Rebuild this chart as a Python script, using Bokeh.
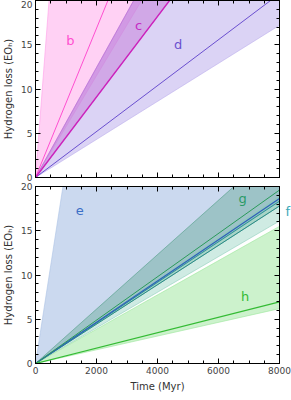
from bokeh.plotting import figure
from bokeh.models import Range1d, LinearAxis, SingleIntervalTicker, FixedTicker, Label
from bokeh.layouts import column
from bokeh.embed import file_html
from bokeh.resources import INLINE

# ---- data (values at t = 0 and t = 8000 Myr; all curves are linear from origin)
t = [0, 8000]

# top panel
b_lo = [0, 46.0];  b_mid = [0, 67.4];  b_hi = [0, 360.0]
c_lo = [0, 36.4];  c_mid = [0, 36.4];  c_hi = [0, 49.7]
d_lo = [0, 17.2];  d_mid = [0, 20.76]; d_hi = [0, 49.7]

# bottom panel
e_lo = [0, 18.3];  e_mid = [0, 18.65]; e_hi = [0, 177.8]
g_lo = [0, 17.8];  g_mid = [0, 19.6];  g_hi = [0, 24.6]
f_lo = [0, 16.1];  f_mid = [0, 18.35]; f_hi = [0, 18.9]
h_lo = [0, 6.2];   h_mid = [0, 6.97];  h_hi = [0, 15.5]

top_labels = [("b", 1140, 15.5, "#ff4fd0"), ("c", 3380, 17.2, "#c42cc4"), ("d", 4680, 15.0, "#6a4fcf")]
bot_labels = [("e", 1450, 17.3, "#3b6fc6"), ("g", 6790, 18.7, "#2a9a66"), ("h", 6870, 7.6, "#33bb33")]
f_label = ("f", 17.2, "#3aa8b8")

y_ticks_interval = 5
x_ticks_interval = 2000
FONT = "DejaVu Sans"


def mirror_axis(ticker):
    return LinearAxis(ticker=ticker, major_label_text_font_size="0px", major_tick_in=5,
                      major_tick_out=0, minor_tick_in=3, minor_tick_out=0,
                      major_label_standoff=0, axis_label=None)


def style(p, show_x_labels):
    p.outline_line_color = "black"
    p.outline_line_width = 1
    p.grid.visible = False
    p.background_fill_color = "white"
    p.border_fill_color = "white"
    for ax in p.xaxis + p.yaxis:
        ax.major_tick_in = 5
        ax.major_tick_out = 0
        ax.minor_tick_in = 3
        ax.minor_tick_out = 0
        ax.axis_line_color = "black"
        ax.major_label_text_font = FONT
        ax.major_label_text_font_size = "9px"
        ax.major_label_text_color = "#444444"
        ax.major_label_standoff = 3
        ax.axis_label_text_font = FONT
        ax.axis_label_text_font_style = "normal"
        ax.axis_label_text_font_size = "10px"
        ax.axis_label_text_color = "#333333"
        ax.axis_label_standoff = 4
    p.yaxis[0].ticker = SingleIntervalTicker(interval=y_ticks_interval, num_minor_ticks=5)
    p.xaxis[0].ticker = SingleIntervalTicker(interval=x_ticks_interval, num_minor_ticks=4)
    if not show_x_labels:
        p.xaxis[0].major_label_text_font_size = "0px"
        p.xaxis[0].major_label_standoff = 0
    p.add_layout(mirror_axis(SingleIntervalTicker(interval=x_ticks_interval, num_minor_ticks=4)), "above")
    p.add_layout(mirror_axis(SingleIntervalTicker(interval=y_ticks_interval, num_minor_ticks=5)), "right")


def band(p, lo, hi, color, alpha):
    xs = t + t[::-1]
    ys = hi + lo[::-1]
    p.patch(xs, ys, fill_color=color, fill_alpha=alpha, line_color=color, line_alpha=0.8, line_width=0.7)


p1 = figure(frame_width=244, frame_height=177, x_range=Range1d(0, 8000), y_range=Range1d(0, 20),
            output_backend="svg", toolbar_location=None,
            min_border_left=0, min_border_right=11, min_border_top=0, min_border_bottom=5)
p1.yaxis.axis_label = "Hydrogen loss (EOₕ)"
band(p1, b_lo, b_hi, "#ff99e6", 0.45)
band(p1, d_lo, d_hi, "#b8a8ec", 0.5)
band(p1, c_lo, c_hi, "#c060d0", 0.38)
p1.line(t, b_mid, line_color="#ff4fd0", line_width=1)
p1.line(t, d_mid, line_color="#6a4fcf", line_width=1)
p1.line(t, c_mid, line_color="#cc22bb", line_width=1.4)
style(p1, False)
for txt, x, y, col in top_labels:
    p1.add_layout(Label(x=x, y=y, text=txt, text_color=col, text_font=FONT, text_font_size="13px",
                        text_align="center", text_baseline="middle"))

p2 = figure(frame_width=244, frame_height=177, x_range=Range1d(0, 8000), y_range=Range1d(0, 20),
            output_backend="svg", toolbar_location=None,
            min_border_left=0, min_border_right=11, min_border_top=4, min_border_bottom=0)
p2.xaxis.axis_label = "Time (Myr)"
p2.yaxis.axis_label = "Hydrogen loss (EOₕ)"
band(p2, e_lo, e_hi, "#a8c0e4", 0.6)
band(p2, g_lo, g_hi, "#4a9a80", 0.36)
band(p2, f_lo, f_hi, "#88ccb8", 0.4)
band(p2, h_lo, h_hi, "#99e699", 0.5)
p2.line(t, g_lo, line_color="#2a8a88", line_width=1)
p2.line(t, f_mid, line_color="#2a9098", line_width=1)
p2.line(t, e_mid, line_color="#2f62b8", line_width=1.3)
p2.line(t, g_mid, line_color="#2a9a5a", line_width=1)
p2.line(t, h_mid, line_color="#33bb33", line_width=1.2)
style(p2, True)
for txt, x, y, col in bot_labels:
    p2.add_layout(Label(x=x, y=y, text=txt, text_color=col, text_font=FONT, text_font_size="13px",
                        text_align="center", text_baseline="middle"))
# "f" sits just outside the frame on the right: drawn as a tick label of an extra right axis
f_axis = LinearAxis(ticker=FixedTicker(ticks=[f_label[1]]), major_label_overrides={f_label[1]: f_label[0]},
                    axis_line_color=None, major_tick_line_color=None, minor_tick_line_color=None,
                    major_label_text_color=f_label[2], major_label_text_font=FONT,
                    major_label_text_font_size="13px", major_label_standoff=0, axis_label=None)
p2.add_layout(f_axis, "right")

layout = column(p1, p2, spacing=0)
open("out.html", "w").write(file_html(layout, INLINE))
